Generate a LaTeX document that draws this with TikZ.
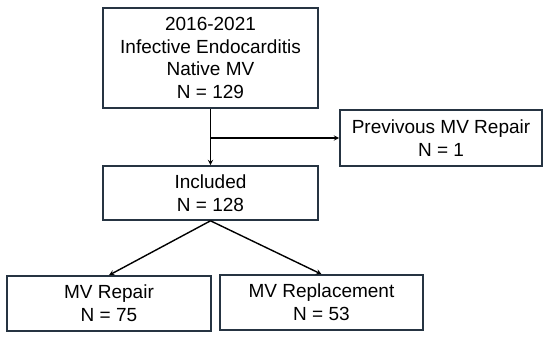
\documentclass[tikz,border=0pt]{standalone}
\usepackage{fontspec}
\setmainfont{Liberation Sans}
\usepackage{tikz}
\usetikzlibrary{arrows, positioning}
\definecolor{boxline}{RGB}{38,52,66}
\tikzstyle{stage} = [rectangle, align=center, draw=boxline, line width=1.6pt, fill=white, font=\fontsize{19}{22.7}\selectfont, inner sep=0pt]
\tikzstyle{arrow} = [line width=1.4pt,->,>=stealth]

\begin{document}
\begin{tikzpicture}[x=1pt, y=-1pt]
\useasboundingbox (0,0) rectangle (550,338);

% Screening
\node (native) [stage, minimum width=215pt, minimum height=100pt] at (210.5,58) {2016-2021\\Infective Endocarditis\\Native MV\\N = 129};

% Exclusion
\node (prev) [stage, minimum width=202pt, minimum height=56pt] at (441,138) {Previvous MV Repair\\N = 1};

% Included
\node (incl) [stage, minimum width=215pt, minimum height=54pt] at (210.5,193) {Included\\N = 128};

% Surgery groups
\node (repair) [stage, minimum width=204pt, minimum height=55pt] at (109,303.5) {MV Repair\\N = 75};
\node (repl) [stage, minimum width=203pt, minimum height=55pt] at (321.5,302.5) {MV Replacement\\N = 53};

% Arrows
\coordinate (split) at (native.south |- prev.west);
\draw [arrow] (native) -- (incl);
\draw [arrow] (split) -- (prev);
\draw [arrow] (incl.south) -- (repair.north);
\draw [arrow] (incl.south) -- (repl.north);

\end{tikzpicture}
\end{document}
